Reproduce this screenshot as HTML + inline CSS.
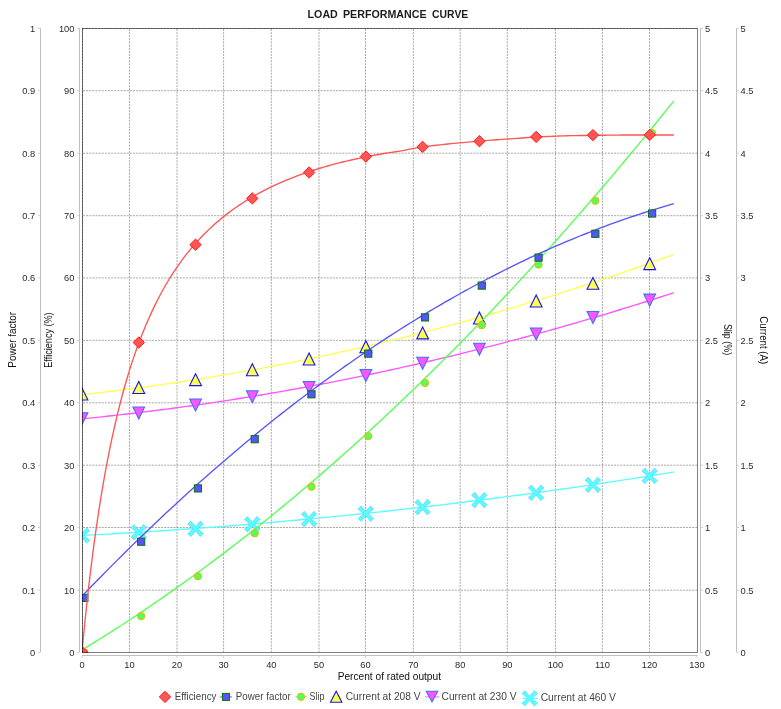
<!DOCTYPE html>
<html><head><meta charset="utf-8"><title>Load Performance Curve</title>
<style>
html,body{margin:0;padding:0;background:#fff;}
body{width:781px;height:709px;overflow:hidden;}
svg{display:block;will-change:transform;font-family:"Liberation Sans",sans-serif;}
</style></head><body>
<svg width="781" height="709" viewBox="0 0 781 709">
<defs><clipPath id="pc"><rect x="82" y="28" width="616" height="625"/></clipPath></defs>
<rect width="781" height="709" fill="#fff"/>

<text x="307.60" y="17.70" font-size="10.9" font-weight="bold" fill="#1c1c1c" textLength="30.18" lengthAdjust="spacingAndGlyphs">LOAD</text><text x="343.00" y="17.70" font-size="10.9" font-weight="bold" fill="#1c1c1c" textLength="83.59" lengthAdjust="spacingAndGlyphs">PERFORMANCE</text><text x="432.10" y="17.70" font-size="10.9" font-weight="bold" fill="#1c1c1c" textLength="36.17" lengthAdjust="spacingAndGlyphs">CURVE</text>
<path d="M129.45 29V652 M177.00 29V652 M223.60 29V652 M271.30 29V652 M319.00 29V652 M365.50 29V652 M413.35 29V652 M460.20 29V652 M507.30 29V652 M555.40 29V652 M602.40 29V652 M649.50 29V652 M83 590.20H697 M83 527.50H697 M83 465.20H697 M83 402.80H697 M83 340.35H697 M83 277.95H697 M83 215.70H697 M83 153.20H697 M83 90.70H697" stroke="#000" stroke-opacity="0.35" stroke-width="1" stroke-dasharray="2 1.124" fill="none"/>
<path d="M40.5 28V652.5 M79.5 28V652.5 M700.5 28V652.5 M736.5 28V652.5 M82 655.5H697.5" stroke="#c0c0c0" stroke-width="1" fill="none"/>
<path d="M38 652.55H40 M77 652.55H79 M701 652.55H703 M737 652.55H739 M38 590.20H40 M77 590.20H79 M701 590.20H703 M737 590.20H739 M38 527.50H40 M77 527.50H79 M701 527.50H703 M737 527.50H739 M38 465.20H40 M77 465.20H79 M701 465.20H703 M737 465.20H739 M38 402.80H40 M77 402.80H79 M701 402.80H703 M737 402.80H739 M38 340.35H40 M77 340.35H79 M701 340.35H703 M737 340.35H739 M38 277.95H40 M77 277.95H79 M701 277.95H703 M737 277.95H739 M38 215.70H40 M77 215.70H79 M701 215.70H703 M737 215.70H739 M38 153.20H40 M77 153.20H79 M701 153.20H703 M737 153.20H739 M38 90.70H40 M77 90.70H79 M701 90.70H703 M737 90.70H739 M38 28.30H40 M77 28.30H79 M701 28.30H703 M737 28.30H739 M82.20 656V658 M129.45 656V658 M177.00 656V658 M223.60 656V658 M271.30 656V658 M319.00 656V658 M365.50 656V658 M413.35 656V658 M460.20 656V658 M507.30 656V658 M555.40 656V658 M602.40 656V658 M649.50 656V658 M696.90 656V658" stroke="#d0d0d0" stroke-width="1" fill="none"/>
<g font-size="9.3" fill="#2a2a2a"><text x="35.2" y="655.85" text-anchor="end">0</text><text x="74.4" y="655.85" text-anchor="end">0</text><text x="705" y="655.85">0</text><text x="740.6" y="655.85">0</text><text x="35.2" y="593.50" text-anchor="end">0.1</text><text x="74.4" y="593.50" text-anchor="end">10</text><text x="705" y="593.50">0.5</text><text x="740.6" y="593.50">0.5</text><text x="35.2" y="530.80" text-anchor="end">0.2</text><text x="74.4" y="530.80" text-anchor="end">20</text><text x="705" y="530.80">1</text><text x="740.6" y="530.80">1</text><text x="35.2" y="468.50" text-anchor="end">0.3</text><text x="74.4" y="468.50" text-anchor="end">30</text><text x="705" y="468.50">1.5</text><text x="740.6" y="468.50">1.5</text><text x="35.2" y="406.10" text-anchor="end">0.4</text><text x="74.4" y="406.10" text-anchor="end">40</text><text x="705" y="406.10">2</text><text x="740.6" y="406.10">2</text><text x="35.2" y="343.65" text-anchor="end">0.5</text><text x="74.4" y="343.65" text-anchor="end">50</text><text x="705" y="343.65">2.5</text><text x="740.6" y="343.65">2.5</text><text x="35.2" y="281.25" text-anchor="end">0.6</text><text x="74.4" y="281.25" text-anchor="end">60</text><text x="705" y="281.25">3</text><text x="740.6" y="281.25">3</text><text x="35.2" y="219.00" text-anchor="end">0.7</text><text x="74.4" y="219.00" text-anchor="end">70</text><text x="705" y="219.00">3.5</text><text x="740.6" y="219.00">3.5</text><text x="35.2" y="156.50" text-anchor="end">0.8</text><text x="74.4" y="156.50" text-anchor="end">80</text><text x="705" y="156.50">4</text><text x="740.6" y="156.50">4</text><text x="35.2" y="94.00" text-anchor="end">0.9</text><text x="74.4" y="94.00" text-anchor="end">90</text><text x="705" y="94.00">4.5</text><text x="740.6" y="94.00">4.5</text><text x="35.2" y="31.60" text-anchor="end">1</text><text x="74.4" y="31.60" text-anchor="end">100</text><text x="705" y="31.60">5</text><text x="740.6" y="31.60">5</text><text x="82.20" y="668" text-anchor="middle">0</text><text x="129.45" y="668" text-anchor="middle">10</text><text x="177.00" y="668" text-anchor="middle">20</text><text x="223.60" y="668" text-anchor="middle">30</text><text x="271.30" y="668" text-anchor="middle">40</text><text x="319.00" y="668" text-anchor="middle">50</text><text x="365.50" y="668" text-anchor="middle">60</text><text x="413.35" y="668" text-anchor="middle">70</text><text x="460.20" y="668" text-anchor="middle">80</text><text x="507.30" y="668" text-anchor="middle">90</text><text x="555.40" y="668" text-anchor="middle">100</text><text x="602.40" y="668" text-anchor="middle">110</text><text x="649.50" y="668" text-anchor="middle">120</text><text x="696.90" y="668" text-anchor="middle">130</text></g>
<g fill="#111"><text x="337.70" y="679.85" font-size="10.0" textLength="103.28" lengthAdjust="spacingAndGlyphs">Percent of rated output</text><text transform="translate(16.40 367.70) rotate(-90)" font-size="10.2" textLength="55.88" lengthAdjust="spacingAndGlyphs">Power factor</text><text transform="translate(52.30 367.70) rotate(-90)" font-size="10.4" textLength="55.29" lengthAdjust="spacingAndGlyphs">Efficiency (%)</text><text transform="translate(723.80 323.90) rotate(90)" font-size="10.2" textLength="31.31" lengthAdjust="spacingAndGlyphs">Slip (%)</text><text transform="translate(760.00 316.30) rotate(90)" font-size="10.3" textLength="47.91" lengthAdjust="spacingAndGlyphs">Current (A)</text></g>
<g clip-path="url(#pc)">
<path d="M82.00 535.42 L86.97 535.17 L91.95 534.91 L96.92 534.64 L101.89 534.37 L106.87 534.10 L111.84 533.82 L116.81 533.54 L121.78 533.25 L126.76 532.96 L131.73 532.66 L136.70 532.36 L141.68 532.06 L146.65 531.75 L151.62 531.43 L156.60 531.11 L161.57 530.78 L166.54 530.46 L171.52 530.12 L176.49 529.78 L181.46 529.44 L186.44 529.09 L191.41 528.74 L196.38 528.38 L201.35 528.01 L206.33 527.65 L211.30 527.27 L216.27 526.90 L221.25 526.52 L226.22 526.13 L231.19 525.74 L236.17 525.34 L241.14 524.94 L246.11 524.54 L251.09 524.13 L256.06 523.71 L261.03 523.29 L266.01 522.87 L270.98 522.44 L275.95 522.01 L280.92 521.57 L285.90 521.12 L290.87 520.68 L295.84 520.22 L300.82 519.77 L305.79 519.30 L310.76 518.84 L315.74 518.37 L320.71 517.89 L325.68 517.41 L330.66 516.92 L335.63 516.43 L340.60 515.94 L345.57 515.44 L350.55 514.93 L355.52 514.42 L360.49 513.91 L365.47 513.39 L370.44 512.87 L375.41 512.34 L380.39 511.81 L385.36 511.27 L390.33 510.73 L395.31 510.18 L400.28 509.63 L405.25 509.07 L410.23 508.51 L415.20 507.95 L420.17 507.38 L425.14 506.80 L430.12 506.22 L435.09 505.64 L440.06 505.05 L445.04 504.45 L450.01 503.85 L454.98 503.25 L459.96 502.64 L464.93 502.03 L469.90 501.41 L474.88 500.79 L479.85 500.16 L484.82 499.53 L489.79 498.89 L494.77 498.25 L499.74 497.60 L504.71 496.95 L509.69 496.30 L514.66 495.64 L519.63 494.97 L524.61 494.30 L529.58 493.63 L534.55 492.95 L539.53 492.27 L544.50 491.58 L549.47 490.88 L554.45 490.19 L559.42 489.48 L564.39 488.78 L569.36 488.06 L574.34 487.35 L579.31 486.62 L584.28 485.90 L589.26 485.17 L594.23 484.43 L599.20 483.69 L604.18 482.95 L609.15 482.20 L614.12 481.44 L619.10 480.68 L624.07 479.92 L629.04 479.15 L634.02 478.38 L638.99 477.60 L643.96 476.81 L648.93 476.03 L653.91 475.23 L658.88 474.44 L663.85 473.63 L668.83 472.83 L673.80 472.02" fill="none" stroke="#55FFFF" stroke-width="1.35" stroke-linejoin="round"/>
<g fill="#55FFFF" stroke="#6AAEFF" stroke-width="0.5"><path d="M74.14 530.76L77.26 527.64L82.00 533.29L86.74 527.64L89.86 530.76L84.21 535.50L89.86 540.24L86.74 543.36L82.00 537.71L77.26 543.36L74.14 540.24L79.79 535.50Z"/><path d="M130.91 527.56L134.03 524.44L138.77 530.09L143.51 524.44L146.63 527.56L140.98 532.30L146.63 537.04L143.51 540.16L138.77 534.51L134.03 540.16L130.91 537.04L136.56 532.30Z"/><path d="M187.68 524.06L190.80 520.94L195.54 526.59L200.28 520.94L203.40 524.06L197.75 528.80L203.40 533.54L200.28 536.66L195.54 531.01L190.80 536.66L187.68 533.54L193.33 528.80Z"/><path d="M244.45 519.56L247.57 516.44L252.31 522.09L257.05 516.44L260.17 519.56L254.51 524.30L260.17 529.04L257.05 532.16L252.31 526.51L247.57 532.16L244.45 529.04L250.10 524.30Z"/><path d="M301.22 514.36L304.34 511.24L309.08 516.89L313.82 511.24L316.94 514.36L311.28 519.10L316.94 523.84L313.82 526.96L309.08 521.31L304.34 526.96L301.22 523.84L306.87 519.10Z"/><path d="M357.99 508.96L361.11 505.84L365.85 511.49L370.59 505.84L373.71 508.96L368.05 513.70L373.71 518.44L370.59 521.56L365.85 515.91L361.11 521.56L357.99 518.44L363.64 513.70Z"/><path d="M414.76 502.46L417.88 499.34L422.62 504.99L427.36 499.34L430.48 502.46L424.82 507.20L430.48 511.94L427.36 515.06L422.62 509.41L417.88 515.06L414.76 511.94L420.41 507.20Z"/><path d="M471.53 495.36L474.65 492.24L479.39 497.89L484.13 492.24L487.25 495.36L481.59 500.10L487.25 504.84L484.13 507.96L479.39 502.31L474.65 507.96L471.53 504.84L477.18 500.10Z"/><path d="M528.30 488.06L531.42 484.94L536.16 490.59L540.90 484.94L544.02 488.06L538.36 492.80L544.02 497.54L540.90 500.66L536.16 495.01L531.42 500.66L528.30 497.54L533.95 492.80Z"/><path d="M585.07 480.16L588.19 477.04L592.93 482.69L597.67 477.04L600.79 480.16L595.13 484.90L600.79 489.64L597.67 492.76L592.93 487.11L588.19 492.76L585.07 489.64L590.72 484.90Z"/><path d="M641.84 471.16L644.96 468.04L649.70 473.69L654.44 468.04L657.56 471.16L651.90 475.90L657.56 480.64L654.44 483.76L649.70 478.11L644.96 483.76L641.84 480.64L647.49 475.90Z"/></g>
<path d="M82.00 418.85 L86.97 418.35 L91.95 417.85 L96.92 417.33 L101.89 416.81 L106.87 416.27 L111.84 415.73 L116.81 415.18 L121.78 414.61 L126.76 414.04 L131.73 413.46 L136.70 412.87 L141.68 412.27 L146.65 411.66 L151.62 411.03 L156.60 410.41 L161.57 409.77 L166.54 409.12 L171.52 408.46 L176.49 407.79 L181.46 407.11 L186.44 406.43 L191.41 405.73 L196.38 405.02 L201.35 404.31 L206.33 403.58 L211.30 402.85 L216.27 402.10 L221.25 401.35 L226.22 400.58 L231.19 399.81 L236.17 399.03 L241.14 398.23 L246.11 397.43 L251.09 396.62 L256.06 395.80 L261.03 394.97 L266.01 394.13 L270.98 393.28 L275.95 392.42 L280.92 391.55 L285.90 390.67 L290.87 389.78 L295.84 388.88 L300.82 387.98 L305.79 387.06 L310.76 386.13 L315.74 385.20 L320.71 384.25 L325.68 383.30 L330.66 382.33 L335.63 381.36 L340.60 380.37 L345.57 379.38 L350.55 378.38 L355.52 377.36 L360.49 376.34 L365.47 375.31 L370.44 374.27 L375.41 373.22 L380.39 372.16 L385.36 371.09 L390.33 370.01 L395.31 368.92 L400.28 367.82 L405.25 366.71 L410.23 365.59 L415.20 364.47 L420.17 363.33 L425.14 362.18 L430.12 361.03 L435.09 359.86 L440.06 358.68 L445.04 357.50 L450.01 356.31 L454.98 355.10 L459.96 353.89 L464.93 352.66 L469.90 351.43 L474.88 350.19 L479.85 348.94 L484.82 347.68 L489.79 346.40 L494.77 345.12 L499.74 343.83 L504.71 342.53 L509.69 341.22 L514.66 339.91 L519.63 338.58 L524.61 337.24 L529.58 335.89 L534.55 334.53 L539.53 333.17 L544.50 331.79 L549.47 330.40 L554.45 329.01 L559.42 327.60 L564.39 326.19 L569.36 324.76 L574.34 323.33 L579.31 321.89 L584.28 320.43 L589.26 318.97 L594.23 317.50 L599.20 316.02 L604.18 314.53 L609.15 313.03 L614.12 311.52 L619.10 310.00 L624.07 308.47 L629.04 306.93 L634.02 305.38 L638.99 303.82 L643.96 302.25 L648.93 300.67 L653.91 299.09 L658.88 297.49 L663.85 295.88 L668.83 294.27 L673.80 292.64" fill="none" stroke="#FF55FF" stroke-width="1.35" stroke-linejoin="round"/>
<g fill="#FF55FF" stroke="#3F6FFF" stroke-width="1.05"><path d="M76.10 412.65L87.90 412.65L82.00 424.75Z"/><path d="M132.87 406.90L144.67 406.90L138.77 419.00Z"/><path d="M189.64 399.00L201.44 399.00L195.54 411.10Z"/><path d="M246.41 390.65L258.21 390.65L252.31 402.75Z"/><path d="M303.18 381.50L314.98 381.50L309.08 393.60Z"/><path d="M359.95 369.50L371.75 369.50L365.85 381.60Z"/><path d="M416.72 357.25L428.52 357.25L422.62 369.35Z"/><path d="M473.49 343.15L485.29 343.15L479.39 355.25Z"/><path d="M530.26 327.95L542.06 327.95L536.16 340.05Z"/><path d="M587.03 311.45L598.83 311.45L592.93 323.55Z"/><path d="M643.80 294.10L655.60 294.10L649.70 306.20Z"/></g>
<path d="M82.00 394.66 L86.97 394.12 L91.95 393.56 L96.92 393.00 L101.89 392.42 L106.87 391.83 L111.84 391.24 L116.81 390.63 L121.78 390.01 L126.76 389.38 L131.73 388.74 L136.70 388.09 L141.68 387.42 L146.65 386.75 L151.62 386.07 L156.60 385.37 L161.57 384.67 L166.54 383.95 L171.52 383.22 L176.49 382.49 L181.46 381.74 L186.44 380.98 L191.41 380.21 L196.38 379.43 L201.35 378.64 L206.33 377.84 L211.30 377.03 L216.27 376.20 L221.25 375.37 L226.22 374.52 L231.19 373.67 L236.17 372.80 L241.14 371.93 L246.11 371.04 L251.09 370.14 L256.06 369.23 L261.03 368.31 L266.01 367.38 L270.98 366.44 L275.95 365.49 L280.92 364.52 L285.90 363.55 L290.87 362.57 L295.84 361.57 L300.82 360.57 L305.79 359.55 L310.76 358.52 L315.74 357.49 L320.71 356.44 L325.68 355.38 L330.66 354.31 L335.63 353.23 L340.60 352.14 L345.57 351.03 L350.55 349.92 L355.52 348.80 L360.49 347.66 L365.47 346.52 L370.44 345.36 L375.41 344.19 L380.39 343.02 L385.36 341.83 L390.33 340.63 L395.31 339.42 L400.28 338.20 L405.25 336.97 L410.23 335.73 L415.20 334.48 L420.17 333.21 L425.14 331.94 L430.12 330.65 L435.09 329.36 L440.06 328.05 L445.04 326.74 L450.01 325.41 L454.98 324.07 L459.96 322.72 L464.93 321.36 L469.90 319.99 L474.88 318.61 L479.85 317.22 L484.82 315.81 L489.79 314.40 L494.77 312.98 L499.74 311.54 L504.71 310.10 L509.69 308.64 L514.66 307.17 L519.63 305.70 L524.61 304.21 L529.58 302.71 L534.55 301.20 L539.53 299.68 L544.50 298.15 L549.47 296.60 L554.45 295.05 L559.42 293.49 L564.39 291.91 L569.36 290.33 L574.34 288.73 L579.31 287.12 L584.28 285.51 L589.26 283.88 L594.23 282.24 L599.20 280.59 L604.18 278.93 L609.15 277.26 L614.12 275.58 L619.10 273.89 L624.07 272.18 L629.04 270.47 L634.02 268.74 L638.99 267.01 L643.96 265.26 L648.93 263.51 L653.91 261.74 L658.88 259.96 L663.85 258.17 L668.83 256.37 L673.80 254.56" fill="none" stroke="#FFFF55" stroke-width="1.35" stroke-linejoin="round"/>
<g fill="#FFFF55" stroke="#1414F0" stroke-width="1.1"><path d="M82.00 388.05L87.90 399.95L76.10 399.95Z"/><path d="M138.77 381.60L144.67 393.50L132.87 393.50Z"/><path d="M195.54 373.70L201.44 385.60L189.64 385.60Z"/><path d="M252.31 363.85L258.21 375.75L246.41 375.75Z"/><path d="M309.08 353.10L314.98 365.00L303.18 365.00Z"/><path d="M365.85 340.85L371.75 352.75L359.95 352.75Z"/><path d="M422.62 327.00L428.52 338.90L416.72 338.90Z"/><path d="M479.39 312.10L485.29 324.00L473.49 324.00Z"/><path d="M536.16 295.05L542.06 306.95L530.26 306.95Z"/><path d="M592.93 277.40L598.83 289.30L587.03 289.30Z"/><path d="M649.70 257.70L655.60 269.60L643.80 269.60Z"/></g>
<path d="M84.50 648.43 L89.45 645.41 L94.40 642.36 L99.36 639.28 L104.31 636.18 L109.26 633.04 L114.21 629.89 L119.16 626.70 L124.12 623.49 L129.07 620.25 L134.02 616.99 L138.97 613.70 L143.93 610.38 L148.88 607.03 L153.83 603.66 L158.78 600.26 L163.73 596.84 L168.69 593.39 L173.64 589.91 L178.59 586.40 L183.54 582.87 L188.49 579.31 L193.45 575.73 L198.40 572.11 L203.35 568.47 L208.30 564.81 L213.25 561.12 L218.21 557.40 L223.16 553.65 L228.11 549.88 L233.06 546.08 L238.02 542.25 L242.97 538.40 L247.92 534.52 L252.87 530.62 L257.82 526.68 L262.78 522.72 L267.73 518.74 L272.68 514.72 L277.63 510.68 L282.58 506.62 L287.54 502.52 L292.49 498.40 L297.44 494.26 L302.39 490.08 L307.34 485.88 L312.30 481.66 L317.25 477.40 L322.20 473.12 L327.15 468.81 L332.11 464.48 L337.06 460.12 L342.01 455.73 L346.96 451.32 L351.91 446.88 L356.87 442.41 L361.82 437.92 L366.77 433.39 L371.72 428.85 L376.67 424.27 L381.63 419.67 L386.58 415.04 L391.53 410.39 L396.48 405.71 L401.43 401.00 L406.39 396.26 L411.34 391.50 L416.29 386.71 L421.24 381.90 L426.19 377.06 L431.15 372.19 L436.10 367.29 L441.05 362.37 L446.00 357.42 L450.96 352.45 L455.91 347.45 L460.86 342.42 L465.81 337.36 L470.76 332.28 L475.72 327.17 L480.67 322.04 L485.62 316.87 L490.57 311.68 L495.52 306.47 L500.48 301.23 L505.43 295.96 L510.38 290.66 L515.33 285.34 L520.28 279.99 L525.24 274.61 L530.19 269.21 L535.14 263.78 L540.09 258.32 L545.05 252.84 L550.00 247.33 L554.95 241.79 L559.90 236.23 L564.85 230.64 L569.81 225.02 L574.76 219.38 L579.71 213.71 L584.66 208.01 L589.61 202.29 L594.57 196.54 L599.52 190.76 L604.47 184.96 L609.42 179.13 L614.37 173.27 L619.33 167.38 L624.28 161.47 L629.23 155.54 L634.18 149.57 L639.14 143.58 L644.09 137.56 L649.04 131.52 L653.99 125.45 L658.94 119.35 L663.90 113.23 L668.85 107.07 L673.80 100.90" fill="none" stroke="#55FF55" stroke-width="1.35" stroke-linejoin="round"/>
<g fill="#55FF55" stroke="#FFAA00" stroke-width="0.9"><circle cx="84.40" cy="652.40" r="3.7"/><circle cx="141.17" cy="616.10" r="3.7"/><circle cx="197.94" cy="576.20" r="3.7"/><circle cx="254.71" cy="533.30" r="3.7"/><circle cx="311.48" cy="486.70" r="3.7"/><circle cx="368.25" cy="436.10" r="3.7"/><circle cx="425.02" cy="382.90" r="3.7"/><circle cx="481.79" cy="325.30" r="3.7"/><circle cx="538.56" cy="264.60" r="3.7"/><circle cx="595.33" cy="200.70" r="3.7"/><circle cx="652.10" cy="133.10" r="3.7"/></g>
<path d="M82.00 596.15 L86.97 590.98 L91.95 585.84 L96.92 580.74 L101.89 575.67 L106.87 570.63 L111.84 565.62 L116.81 560.64 L121.78 555.69 L126.76 550.78 L131.73 545.89 L136.70 541.04 L141.68 536.22 L146.65 531.44 L151.62 526.68 L156.60 521.96 L161.57 517.26 L166.54 512.60 L171.52 507.97 L176.49 503.38 L181.46 498.81 L186.44 494.28 L191.41 489.77 L196.38 485.30 L201.35 480.86 L206.33 476.46 L211.30 472.08 L216.27 467.74 L221.25 463.43 L226.22 459.14 L231.19 454.90 L236.17 450.68 L241.14 446.49 L246.11 442.34 L251.09 438.22 L256.06 434.13 L261.03 430.07 L266.01 426.04 L270.98 422.05 L275.95 418.08 L280.92 414.15 L285.90 410.25 L290.87 406.38 L295.84 402.55 L300.82 398.74 L305.79 394.97 L310.76 391.23 L315.74 387.52 L320.71 383.84 L325.68 380.19 L330.66 376.58 L335.63 372.99 L340.60 369.44 L345.57 365.92 L350.55 362.43 L355.52 358.98 L360.49 355.55 L365.47 352.16 L370.44 348.80 L375.41 345.47 L380.39 342.17 L385.36 338.90 L390.33 335.67 L395.31 332.47 L400.28 329.30 L405.25 326.16 L410.23 323.05 L415.20 319.97 L420.17 316.93 L425.14 313.92 L430.12 310.94 L435.09 307.99 L440.06 305.07 L445.04 302.18 L450.01 299.33 L454.98 296.51 L459.96 293.72 L464.93 290.96 L469.90 288.23 L474.88 285.53 L479.85 282.87 L484.82 280.24 L489.79 277.64 L494.77 275.07 L499.74 272.53 L504.71 270.02 L509.69 267.55 L514.66 265.11 L519.63 262.70 L524.61 260.32 L529.58 257.97 L534.55 255.66 L539.53 253.37 L544.50 251.12 L549.47 248.90 L554.45 246.71 L559.42 244.56 L564.39 242.43 L569.36 240.34 L574.34 238.28 L579.31 236.25 L584.28 234.25 L589.26 232.28 L594.23 230.35 L599.20 228.44 L604.18 226.57 L609.15 224.73 L614.12 222.92 L619.10 221.15 L624.07 219.40 L629.04 217.69 L634.02 216.01 L638.99 214.36 L643.96 212.74 L648.93 211.15 L653.91 209.60 L658.88 208.08 L663.85 206.59 L668.83 205.13 L673.80 203.70" fill="none" stroke="#5555FF" stroke-width="1.35" stroke-linejoin="round"/>
<g fill="#5555FF" stroke="#0E700E" stroke-width="1.0"><rect x="80.80" y="594.30" width="7.20" height="7.20"/><rect x="137.57" y="538.10" width="7.20" height="7.20"/><rect x="194.34" y="484.80" width="7.20" height="7.20"/><rect x="251.11" y="435.60" width="7.20" height="7.20"/><rect x="307.88" y="390.70" width="7.20" height="7.20"/><rect x="364.65" y="350.00" width="7.20" height="7.20"/><rect x="421.42" y="313.80" width="7.20" height="7.20"/><rect x="478.19" y="282.00" width="7.20" height="7.20"/><rect x="534.96" y="254.00" width="7.20" height="7.20"/><rect x="591.73" y="230.20" width="7.20" height="7.20"/><rect x="648.50" y="209.90" width="7.20" height="7.20"/></g>
<path d="M82.00 652.00 L82.40 647.69 L82.80 643.43 L83.20 639.23 L83.60 635.09 L84.00 631.01 L84.41 626.98 L84.81 623.00 L85.21 619.07 L85.61 615.20 L86.01 611.37 L86.41 607.59 L86.81 603.87 L87.21 600.19 L87.61 596.55 L88.01 592.96 L88.41 589.42 L88.82 585.92 L89.22 582.46 L89.62 579.05 L90.02 575.67 L90.42 572.34 L90.82 569.05 L91.22 565.80 L91.62 562.58 L92.02 559.41 L92.42 556.27 L92.82 553.17 L93.23 550.10 L93.63 547.07 L94.03 544.08 L94.43 541.12 L94.83 538.19 L95.23 535.30 L95.63 532.44 L96.03 529.61 L96.43 526.81 L96.83 524.05 L97.23 521.31 L97.64 518.61 L98.04 515.93 L98.44 513.28 L98.84 510.67 L99.24 508.08 L99.64 505.51 L100.04 502.98 L100.44 500.47 L100.84 497.99 L101.24 495.54 L101.64 493.11 L102.05 490.70 L102.45 488.32 L102.85 485.97 L103.25 483.64 L103.65 481.33 L104.05 479.05 L104.45 476.79 L104.85 474.55 L105.25 472.34 L105.65 470.14 L106.13 467.59 L108.98 452.78 L111.83 438.96 L114.68 426.02 L117.53 413.89 L120.38 402.51 L123.23 391.79 L126.08 381.70 L128.93 372.17 L131.78 363.17 L134.63 354.65 L137.48 346.57 L140.33 338.91 L143.18 331.64 L146.03 324.73 L148.88 318.15 L151.73 311.87 L154.58 305.90 L157.43 300.19 L160.28 294.74 L163.13 289.53 L165.98 284.54 L168.84 279.76 L171.69 275.19 L174.54 270.80 L177.39 266.59 L180.24 262.55 L183.09 258.66 L185.94 254.93 L188.79 251.34 L191.64 247.88 L194.49 244.56 L197.34 241.35 L200.19 238.26 L203.04 235.28 L205.89 232.41 L208.74 229.63 L211.59 226.95 L214.44 224.37 L217.29 221.87 L220.14 219.45 L222.99 217.11 L225.84 214.85 L228.69 212.66 L231.54 210.54 L234.39 208.49 L237.24 206.50 L240.09 204.57 L242.94 202.71 L245.80 200.90 L248.65 199.14 L251.50 197.44 L254.35 195.78 L257.20 194.18 L260.05 192.62 L262.90 191.11 L265.75 189.64 L268.60 188.21 L271.45 186.82 L274.30 185.47 L277.15 184.16 L280.00 182.89 L282.85 181.65 L285.70 180.44 L288.55 179.27 L291.40 178.13 L294.25 177.02 L297.10 175.93 L299.95 174.88 L302.80 173.85 L305.65 172.86 L308.50 171.88 L311.35 170.94 L314.20 170.01 L317.05 169.12 L319.90 168.24 L322.75 167.39 L325.61 166.56 L328.46 165.75 L331.31 164.97 L334.16 164.20 L337.01 163.45 L339.86 162.72 L342.71 162.01 L345.56 161.32 L348.41 160.64 L351.26 159.99 L354.11 159.34 L356.96 158.72 L359.81 158.11 L362.66 157.51 L365.51 156.93 L368.36 156.37 L371.21 155.82 L374.06 155.28 L376.91 154.75 L379.76 154.24 L382.61 153.75 L385.46 153.29 L388.31 152.85 L391.16 152.42 L394.01 152.00 L396.86 151.57 L399.71 151.14 L402.57 150.65 L405.42 150.06 L408.27 149.43 L411.12 148.84 L413.97 148.34 L416.82 147.88 L419.67 147.43 L422.52 147.00 L425.37 146.60 L428.22 146.22 L431.07 145.87 L433.92 145.53 L436.77 145.21 L439.62 144.89 L442.47 144.57 L445.32 144.27 L448.17 143.97 L451.02 143.68 L453.87 143.39 L456.72 143.11 L459.57 142.84 L462.42 142.57 L465.27 142.31 L468.12 142.05 L470.97 141.80 L473.82 141.56 L476.67 141.32 L479.53 141.08 L482.38 140.85 L485.23 140.63 L488.08 140.41 L490.93 140.19 L493.78 139.98 L496.63 139.78 L499.48 139.58 L502.33 139.38 L505.18 139.19 L508.03 139.00 L510.88 138.81 L513.73 138.62 L516.58 138.43 L519.43 138.24 L522.28 138.02 L525.13 137.77 L527.98 137.53 L530.83 137.36 L533.68 137.21 L536.53 137.06 L539.38 136.92 L542.23 136.78 L545.08 136.64 L547.93 136.51 L550.78 136.38 L553.63 136.26 L556.48 136.14 L559.34 136.03 L562.19 135.93 L565.04 135.85 L567.89 135.77 L570.74 135.70 L573.59 135.64 L576.44 135.59 L579.29 135.54 L582.14 135.50 L584.99 135.46 L587.84 135.42 L590.69 135.39 L593.54 135.35 L596.39 135.32 L599.24 135.29 L602.09 135.25 L604.94 135.21 L607.79 135.17 L610.64 135.14 L613.49 135.11 L616.34 135.08 L619.19 135.06 L622.04 135.04 L624.89 135.02 L627.74 135.01 L630.59 135.01 L633.44 135.01 L636.30 135.01 L639.15 135.00 L642.00 135.00 L644.85 135.00 L647.70 134.99 L650.55 134.99 L653.40 134.99 L656.25 134.99 L659.10 134.99 L661.95 134.99 L664.80 134.99 L667.65 134.99 L670.50 135.00 L673.35 135.00 L673.90 135.00" fill="none" stroke="#FF5555" stroke-width="1.35" stroke-linejoin="round"/>
<g fill="#FF5555" stroke="#FF1010" stroke-width="0.9"><path d="M82.00 646.30L87.70 652.00L82.00 657.70L76.30 652.00Z"/><path d="M138.77 336.80L144.47 342.50L138.77 348.20L133.07 342.50Z"/><path d="M195.54 239.00L201.24 244.70L195.54 250.40L189.84 244.70Z"/><path d="M252.31 192.70L258.01 198.40L252.31 204.10L246.61 198.40Z"/><path d="M309.08 166.80L314.78 172.50L309.08 178.20L303.38 172.50Z"/><path d="M365.85 150.90L371.55 156.60L365.85 162.30L360.15 156.60Z"/><path d="M422.62 141.20L428.32 146.90L422.62 152.60L416.92 146.90Z"/><path d="M479.39 135.50L485.09 141.20L479.39 146.90L473.69 141.20Z"/><path d="M536.16 131.20L541.86 136.90L536.16 142.60L530.46 136.90Z"/><path d="M592.93 129.40L598.63 135.10L592.93 140.80L587.23 135.10Z"/><path d="M649.70 129.20L655.40 134.90L649.70 140.60L644.00 134.90Z"/></g>
</g>
<rect x="82.5" y="28.5" width="615" height="624" fill="none" stroke="#000" stroke-opacity="0.5" stroke-width="1"/>
<path d="M82.5 28.5H697 M82.5 28.5V652" stroke="#000" stroke-opacity="0.38" stroke-width="1" stroke-dasharray="2 1.124" fill="none"/>
<g fill="#454545"><g fill="#FF5555" stroke="#FF1010" stroke-width="0.9"><path d="M165.00 691.20L170.70 696.90L165.00 702.60L159.30 696.90Z"/></g><text x="174.80" y="699.60" font-size="10.6" textLength="41.61" lengthAdjust="spacingAndGlyphs">Efficiency</text><path d="M219.7 696.9H232" stroke="#5555FF" stroke-opacity="0.75" stroke-width="1.2"/><g fill="#5555FF" stroke="#0E700E" stroke-width="1.0"><rect x="222.45" y="693.40" width="7.00" height="7.00"/></g><text x="235.80" y="699.60" font-size="10.6" textLength="54.88" lengthAdjust="spacingAndGlyphs">Power factor</text><path d="M295.3 696.8H306.8" stroke="#55FF55" stroke-opacity="0.8" stroke-width="1.2"/><g fill="#55FF55" stroke="#FFAA00" stroke-width="0.9"><circle cx="301.00" cy="696.80" r="3.7"/></g><text x="309.60" y="699.60" font-size="10.6" textLength="14.88" lengthAdjust="spacingAndGlyphs">Slip</text><path d="M330 696.8H342.2" stroke="#FFFF55" stroke-width="1.2"/><g fill="#FFFF55" stroke="#1414F0" stroke-width="1.1"><path d="M336.20 691.25L341.90 702.25L330.50 702.25Z"/></g><text x="345.70" y="699.60" font-size="10.6" textLength="74.88" lengthAdjust="spacingAndGlyphs">Current at 208 V</text><path d="M425 696.9H439" stroke="#FF55FF" stroke-opacity="0.8" stroke-width="1.2"/><g fill="#FF55FF" stroke="#3F6FFF" stroke-width="1.05"><path d="M426.20 691.20L437.80 691.20L432.00 701.80Z"/></g><text x="441.50" y="699.60" font-size="10.6" textLength="74.98" lengthAdjust="spacingAndGlyphs">Current at 230 V</text><path d="M522.5 698.3H537" stroke="#55FFFF" stroke-width="1.2"/><g fill="#55FFFF" stroke="#66CCFF" stroke-width="0.5"><path d="M521.84 693.56L524.96 690.44L529.70 696.09L534.44 690.44L537.56 693.56L531.91 698.30L537.56 703.04L534.44 706.16L529.70 700.51L524.96 706.16L521.84 703.04L527.49 698.30Z"/></g><text x="540.70" y="701.10" font-size="10.6" textLength="75.28" lengthAdjust="spacingAndGlyphs">Current at 460 V</text></g>
</svg></body></html>
